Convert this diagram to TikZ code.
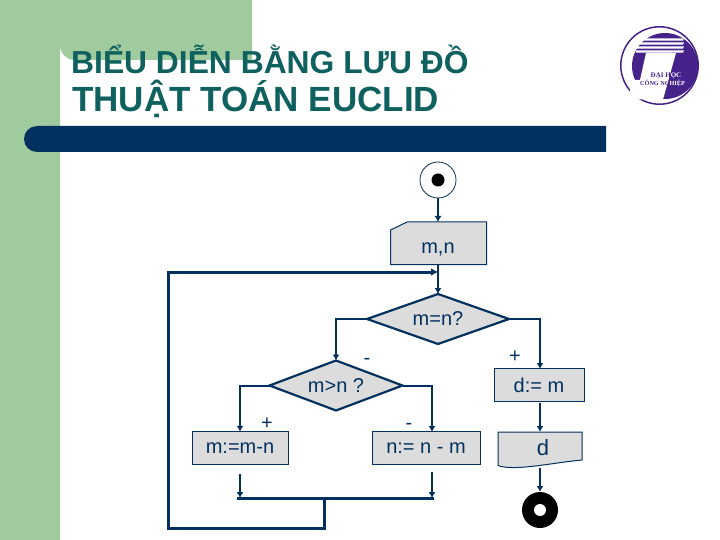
\documentclass[tikz,border=0pt]{standalone}
\usepackage{fontspec}
\setmainfont{Liberation Sans}
\newfontfamily\logofont{Liberation Serif}
\usetikzlibrary{arrows.meta,shapes.geometric}
\definecolor{navy}{HTML}{03315F}
\definecolor{leaf}{HTML}{9FCB9E}
\definecolor{teal2}{HTML}{0F615F}
\definecolor{boxgray}{HTML}{DCDCDC}
\definecolor{logop}{HTML}{45238A}
\tikzset{
  pbox/.style={draw=navy,line width=1bp,fill=boxgray,rectangle,inner sep=0pt,outer sep=0pt,minimum height=32.5bp,font=\fontsize{20bp}{24bp}\selectfont,text=navy},
  dec/.style={draw=navy,line width=2.2bp,fill=boxgray,diamond,aspect=2.84,inner sep=0pt,outer sep=0pt,font=\fontsize{20bp}{24bp}\selectfont,text=navy},
  lbl/.style={inner sep=0pt,font=\fontsize{20bp}{24bp}\selectfont,text=navy},
  conn/.style={draw=navy,line width=2bp,-{Latex[length=6bp,width=7bp]}},
  thickl/.style={draw=navy,line width=3bp},
  ttla/.style={anchor=base west,inner sep=0pt,text=teal2,font=\fontsize{31.8bp}{36bp}\selectfont\bfseries},
  ttlb/.style={anchor=base west,inner sep=0pt,text=teal2,font=\fontsize{35bp}{40bp}\selectfont\bfseries},
  logotxt/.style={inner sep=0pt,font=\logofont\bfseries\fontsize{6.2bp}{7bp}\selectfont}
}
\begin{document}
\begin{tikzpicture}[x=1bp,y=-1bp]
\useasboundingbox (0,0) rectangle (720,540);
\fill[white] (0,0) rectangle (720,540);
% background
\fill[leaf] (0,0) -- (252,0) -- (252,60) -- (75,60) arc[start angle=90,end angle=180,radius=15] -- (60,540) -- (0,540) -- cycle;
\fill[navy] (606,126) -- (37,126) arc[start angle=90,end angle=270,x radius=13,y radius=-13] -- (606,152) -- cycle;
% title
\node[ttla] (t1) at (71,73.5) {BIỂU DIỄN BẰNG LƯU ĐỒ};
\node[ttlb] (t2) at (72,112) {THUẬT TOÁN EUCLID};
% logo
\draw[logop,line width=1.5bp] (659.5,65.5) circle[radius=38.7];
\fill[logop] (665,66) circle[radius=33];
\fill[white] (646,53) -- (676,53) -- (663,99.5) -- (630,99.5) -- (630,80) -- (640,80) -- cycle;
\foreach \yy in {39.5,43.5,47.5,51.5}{\fill[white] (636,\yy-1.1) -- (684,\yy-1.1) -- (683,\yy+1.1) -- (636,\yy+1.1) -- cycle;}
\node[logotxt,font=\logofont\bfseries\fontsize{7bp}{8bp}\selectfont] (lg1) at (666,75.5) {\textcolor{logop}{ĐẠI H}\textcolor{white}{ỌC}};
\node[logotxt] (lg2) at (662.5,83.5) {\textcolor{logop}{CÔNG NG}\textcolor{white}{HIỆP}};
% start
\node[circle,draw=navy,line width=0.8bp,minimum size=36bp,inner sep=0pt,outer sep=0pt] (start) at (438,180) {};
\fill[black] (start.center) circle[radius=6.5];
% input m,n
\draw[draw=navy,line width=1bp,fill=boxgray] (390.5,230) -- (407,222) -- (486.5,222) -- (486.5,264.5) -- (390.5,264.5) -- cycle;
\coordinate (mntop) at (438,222);
\coordinate (mnbot) at (438,264.5);
\node[lbl] (mn) at (438,249) {m,n};
% decisions
\node[dec,minimum width=142bp,minimum height=50bp] (d1) at (438,319) {m=n?};
\node[dec,minimum width=133bp,minimum height=50bp] (d2) at (336,385.5) {m>n ?};
% process boxes
\node[pbox,minimum width=96bp] (b1) at (240,448) {m:=m-n};
\node[pbox,minimum width=108bp] (b2) at (426,448) {n:= n - m};
\node[pbox,minimum width=90bp] (b3) at (539,385) {d:= m};
\coordinate (b2top) at (432,432);
\coordinate (b3top) at (540,369);
\coordinate (b3out) at (540,403);
% output d
\draw[draw=navy,line width=1bp,fill=boxgray] (498,432) -- (582,432) -- (582,460) .. controls (560,462) and (530,468) .. (512,467.5) .. controls (505,467.5) and (500,466.5) .. (498,465.5) -- cycle;
\coordinate (dtop) at (540,432);
\coordinate (dbot) at (540,468);
\node[lbl,font=\fontsize{22bp}{26bp}\selectfont] (dl) at (543,447.5) {d};
% end
\node[circle,fill=black,minimum size=36bp,inner sep=0pt,outer sep=0pt] (stop) at (540,510) {};
\fill[white] (stop.center) circle[radius=6];
% sign labels
\node[lbl] (s1) at (515,357) {+};
\node[lbl] (s2) at (367,361) {-};
\node[lbl] (s3) at (267,424) {+};
\node[lbl] (s4) at (409,426) {-};
% join bar and loop
\coordinate (barL) at (237,498);
\coordinate (barR) at (434,498);
\coordinate (barM) at (324,498);
\coordinate (o1) at (240,474);
\coordinate (o2) at (432,472);
\coordinate (j1) at (240,498);
\coordinate (j2) at (432,498);
\coordinate (lp1) at (324,528);
\coordinate (lp2) at (168,528);
\coordinate (lp3) at (168,272);
\coordinate (lp4) at (438,272);
\draw[thickl] (barL) -- (barR);
\draw[thickl,line join=miter,-{Latex[length=7bp,width=8bp]}] (barM) -- (lp1) -- (lp2) -- (lp3) -- (lp4);
% connectors
\draw[conn] (start.south) -- (mntop);
\draw[conn] (mnbot) -- (d1.north);
\draw[conn] (d1.west) -| (d2.north);
\draw[conn] (d1.east) -| (b3top);
\draw[conn] (d2.west) -| (b1.north);
\draw[conn] (d2.east) -| (b2top);
\draw[conn] (o1) -- (j1);
\draw[conn] (o2) -- (j2);
\draw[conn] (b3out) -- (dtop);
\draw[conn] (dbot) -- (stop.north);
\end{tikzpicture}
\end{document}
